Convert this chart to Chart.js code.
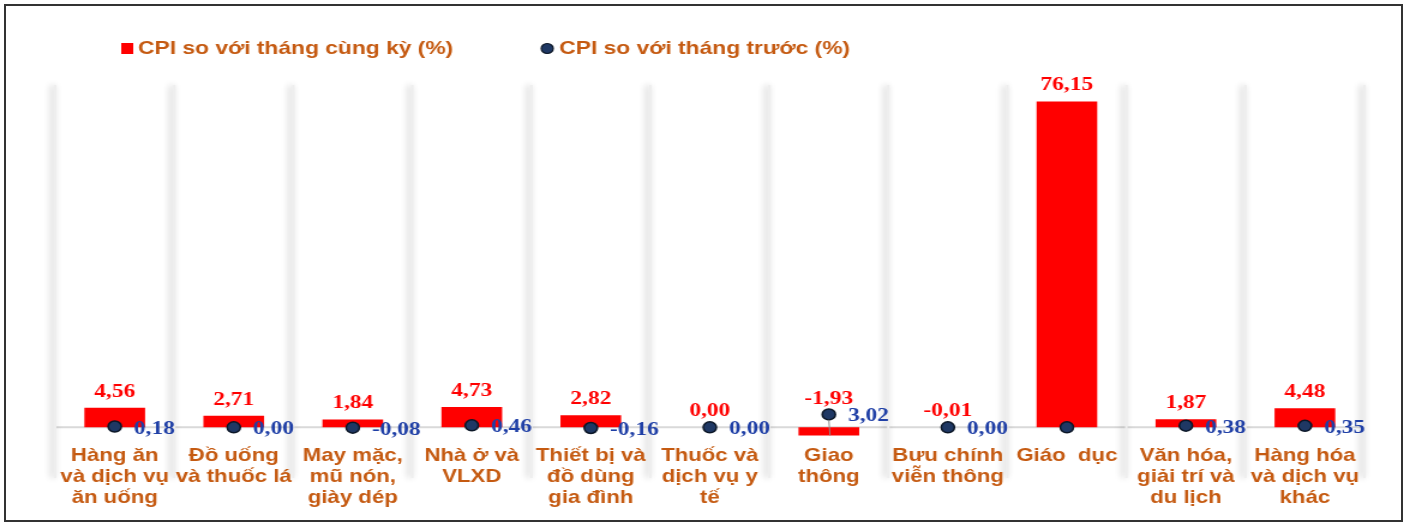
<!DOCTYPE html>
<html>
<head>
<meta charset="utf-8">
<script src="https://cdn.jsdelivr.net/npm/chart.js@4"></script>
<style>
  html, body { margin: 0; padding: 0; background: #fff; }
  #wrap { position: relative; width: 1403px; height: 523px; overflow: hidden; }
  /* the source picture is stretched sideways, so the canvas is too */
  #chart { position: absolute; left: 0; top: 0; transform: scaleX(1.2); transform-origin: 0 0; }
  #frame { position: absolute; left: 4px; top: 4px; width: 1395px; height: 514px; border: 2px solid #333; pointer-events: none; }
</style>
</head>
<body>
<div id="wrap">
  <canvas id="chart" width="1169" height="523"></canvas>
  <div id="frame"></div>
</div>
<script>
const categories = [
  ['Hàng ăn', 'và dịch vụ', 'ăn uống'],
  ['Đồ uống', 'và thuốc lá'],
  ['May mặc,', 'mũ nón,', 'giày dép'],
  ['Nhà ở và', 'VLXD'],
  ['Thiết bị và', 'đồ dùng', 'gia đình'],
  ['Thuốc và', 'dịch vụ y', 'tế'],
  ['Giao', 'thông'],
  ['Bưu chính', 'viễn thông'],
  ['Giáo  dục'],
  ['Văn hóa,', 'giải trí và', 'du lịch'],
  ['Hàng hóa', 'và dịch vụ', 'khác']
];
const yoyLabel = 'CPI so với tháng cùng kỳ (%)';
const momLabel = 'CPI so với tháng trước (%)';
const yoy = [4.56, 2.71, 1.84, 4.73, 2.82, 0.00, -1.93, -0.01, 76.15, 1.87, 4.48];
const mom = [0.18, 0.00, -0.08, 0.46, -0.16, 0.00, 3.02, 0.00, 0.00, 0.38, 0.35];
const momNoLabel = [8]; // Giáo dục: no value label shown

const orange = '#C55A11';
const red = '#FF0000';
const navy = '#1F3864';
const blue = '#1F3FA6';
const sans = '"Liberation Sans", Arial, sans-serif';
const serif = '"Liberation Serif", "Times New Roman", serif';
const dotR = 5.5;

const fmt = v => v.toFixed(2).replace('.', ',');

const decor = {
  id: 'decor',
  beforeDraw(chart) {
    const { ctx, chartArea } = chart;
    const x = chart.scales.x, y = chart.scales.y;
    const step = x.getPixelForValue(1) - x.getPixelForValue(0);
    const zero = y.getPixelForValue(0);
    ctx.save();
    ctx.strokeStyle = '#d9d9d9';
    ctx.lineWidth = 2;
    ctx.beginPath();
    ctx.moveTo(chartArea.left, zero);
    ctx.lineTo(chartArea.right, zero);
    ctx.stroke();

    // separators between groups, soft shadow on the left
    ctx.shadowColor = 'rgba(0,0,0,0.32)';
    ctx.shadowBlur = 6;
    ctx.shadowOffsetX = -2;
    ctx.strokeStyle = '#eeeeee';
    for (let i = 0; i <= categories.length; i++) {
      const px = x.getPixelForValue(0) - step / 2 + i * step;
      ctx.beginPath();
      ctx.moveTo(px, chartArea.top);
      ctx.lineTo(px, chartArea.bottom + 40);
      ctx.stroke();
    }
    ctx.restore();
  },
  afterDatasetsDraw(chart) {
    const { ctx } = chart;
    const y = chart.scales.y;
    const dots = chart.getDatasetMeta(0).data;
    const bars = chart.getDatasetMeta(1).data;
    ctx.save();
    yoy.forEach((v, i) => {
      const bar = bars[i], dot = dots[i];
      if (Math.abs(mom[i]) > 1) {
        ctx.strokeStyle = '#8c8c8c';
        ctx.lineWidth = 1;
        ctx.beginPath();
        ctx.moveTo(dot.x, dot.y + dotR);
        ctx.lineTo(dot.x + 1, y.getPixelForValue(v));
        ctx.stroke();
      }
      const top = Math.min(bar.y, bar.base);
      const baseLine = Math.min(top - 11, dot.y - dotR - 5);
      ctx.font = 'bold 19.5px ' + serif;
      ctx.fillStyle = red;
      ctx.textAlign = 'center';
      ctx.textBaseline = 'alphabetic';
      ctx.fillText(fmt(v), bar.x, baseLine);

      if (!momNoLabel.includes(i)) {
        ctx.fillStyle = blue;
        ctx.textAlign = 'left';
        ctx.textBaseline = 'middle';
        ctx.fillText(fmt(mom[i]), dot.x + 16, dot.y + 2);
      }
    });
    ctx.restore();
  },
  afterDraw(chart) {
    const { ctx } = chart;
    ctx.save();
    ctx.font = 'bold 19px ' + sans;
    ctx.textBaseline = 'middle';
    ctx.textAlign = 'left';
    ctx.fillStyle = red;
    ctx.fillRect(101, 43, 10, 11);
    ctx.fillStyle = orange;
    ctx.fillText(yoyLabel, 115, 49);

    ctx.beginPath();
    ctx.arc(456, 48.5, 5, 0, Math.PI * 2);
    ctx.fillStyle = navy;
    ctx.fill();
    ctx.strokeStyle = '#0b1626';
    ctx.lineWidth = 1.2;
    ctx.stroke();
    ctx.fillStyle = orange;
    ctx.fillText(momLabel, 466, 49);
    ctx.restore();
  }
};

new Chart(document.getElementById('chart'), {
  data: {
    labels: categories,
    datasets: [
      {
        type: 'line',
        label: momLabel,
        data: mom,
        showLine: false,
        pointRadius: dotR,
        pointBackgroundColor: navy,
        pointBorderColor: '#0b1626',
        pointBorderWidth: 1.5,
        order: 0
      },
      {
        type: 'bar',
        label: yoyLabel,
        data: yoy,
        backgroundColor: red,
        barPercentage: 0.51,
        categoryPercentage: 1,
        order: 1
      }
    ]
  },
  options: {
    responsive: false,
    animation: false,
    layout: { padding: { left: 46, right: 32, top: 85, bottom: 5 } },
    plugins: {
      legend: { display: false },
      tooltip: { enabled: false }
    },
    scales: {
      x: {
        grid: { display: false, drawTicks: false },
        border: { display: false },
        ticks: {
          color: orange,
          font: { family: sans, size: 18.5, weight: 'bold', lineHeight: 1.15 },
          padding: 7,
          maxRotation: 0,
          autoSkip: false
        },
        afterFit(s) { s.height = 80; }
      },
      y: { display: false, min: -2.5, max: 80 }
    }
  },
  plugins: [decor]
});
</script>
</body>
</html>
